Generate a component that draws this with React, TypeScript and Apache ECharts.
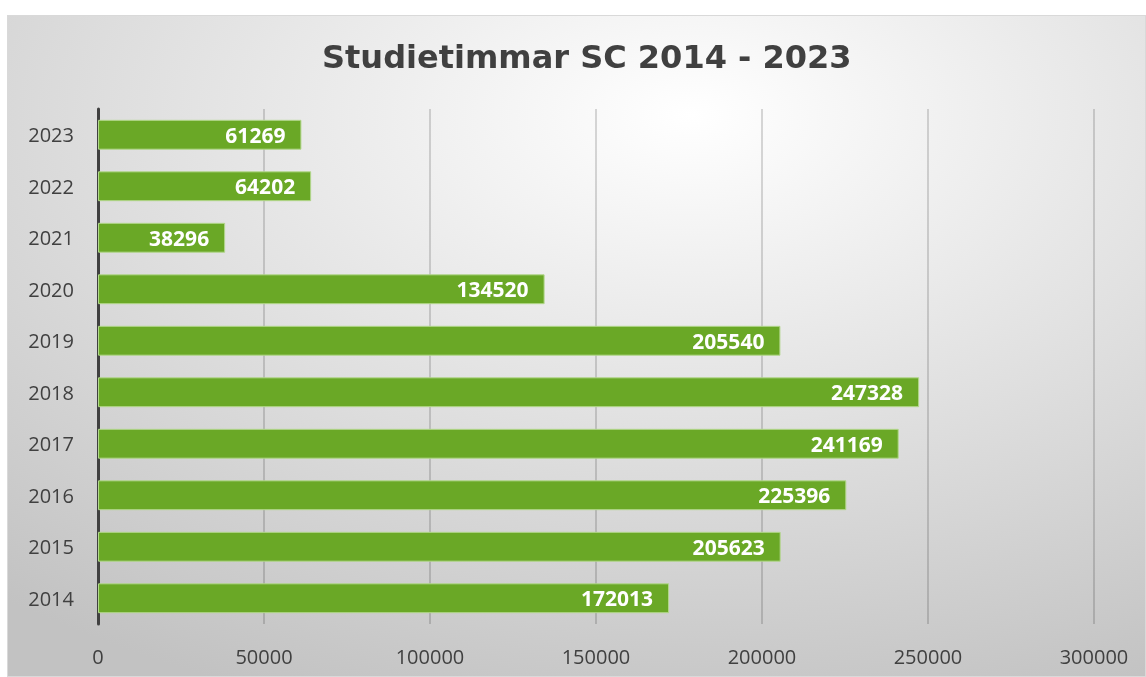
import React, { useEffect, useRef } from "react";
import * as echarts from "echarts";

const years = ["2014", "2015", "2016", "2017", "2018", "2019", "2020", "2021", "2022", "2023"];
const hours = [172013, 205623, 225396, 241169, 247328, 205540, 134520, 38296, 64202, 61269];
const titleText = "Studietimmar SC 2014 - 2023";

export default function App() {
  const ref = useRef<HTMLDivElement>(null);
  useEffect(() => {
    const chart = echarts.init(ref.current!, null, { renderer: "svg" });
    chart.setOption({
      animation: false,
      backgroundColor: {
        type: "radial",
        x: 0.6,
        y: 0.15,
        r: 0.95,
        colorStops: [
          { offset: 0, color: "#ffffff" },
          { offset: 1, color: "#c2c2c2" },
        ],
      },
      title: {
        text: titleText,
        left: 309,
        top: 20,
        textStyle: { fontFamily: "DejaVu Sans", fontWeight: "bold", fontSize: 32, color: "#404040" },
      },
      grid: { left: 90, right: 51, top: 93, bottom: 52 },
      xAxis: {
        type: "value",
        min: 0,
        max: 300000,
        interval: 50000,
        axisLine: { show: false },
        axisTick: { show: false },
        axisLabel: {
          color: "#404040",
          fontSize: 20,
          fontFamily: "Open Sans",
          margin: 22,
          formatter: (v: number) => String(v),
        },
        splitLine: { lineStyle: { color: "rgba(0,0,0,0.2)", width: 1.5 } },
      },
      yAxis: {
        type: "category",
        data: years,
        axisLine: { lineStyle: { color: "#404040", width: 3 } },
        axisTick: { show: false },
        axisLabel: { color: "#404040", fontSize: 20, fontFamily: "Open Sans", margin: 24 },
      },
      series: [
        {
          type: "bar",
          data: hours,
          barWidth: "58%",
          itemStyle: { color: "#6aa826", borderColor: "#b3d78c", borderWidth: 1 },
          label: {
            show: true,
            position: "insideRight",
            distance: 16,
            color: "#ffffff",
            fontWeight: "bold",
            fontSize: 21,
            fontFamily: "Open Sans",
          },
        },
      ],
    });
    return () => chart.dispose();
  }, []);
  return (
    <div
      ref={ref}
      style={{
        position: "fixed",
        left: 7,
        top: 15,
        width: 1139,
        height: 662,
        border: "1px solid #d9d9d9",
        boxSizing: "border-box",
      }}
    />
  );
}
